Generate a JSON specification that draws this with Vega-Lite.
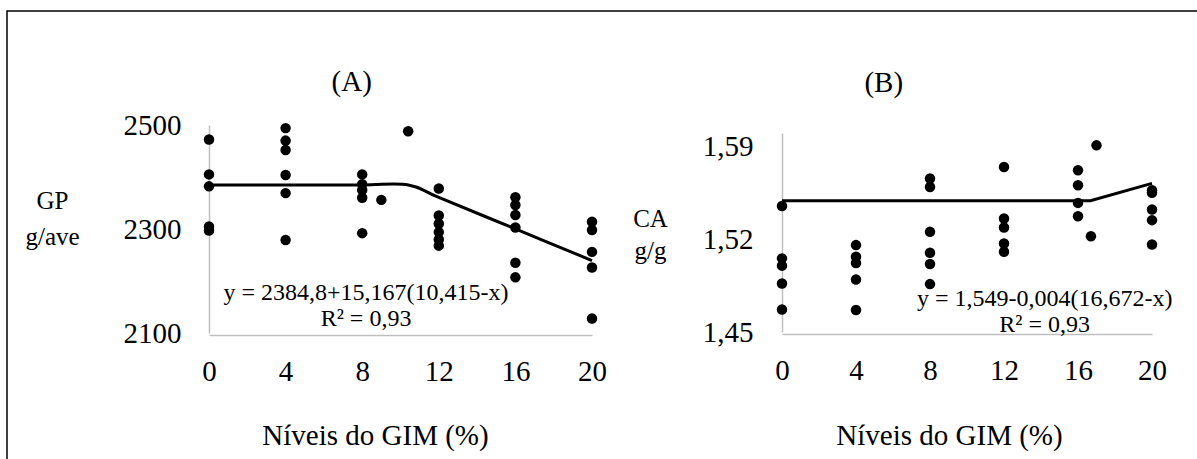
{
  "$schema": "https://vega.github.io/schema/vega-lite/v6.json",
  "width": 1195,
  "height": 452,
  "autosize": {"type": "none"},
  "padding": {"left": 7, "top": 11, "right": 0, "bottom": 0},
  "background": "white",
  "config": {
    "view": {"stroke": "#000000", "strokeWidth": 1.5},
    "font": "Liberation Serif",
    "axis": {
      "grid": false, "ticks": false, "tickSize": 0,
      "domainColor": "#bfbfbf", "domainWidth": 1.5,
      "labelFont": "Liberation Serif", "labelFontSize": 29, "labelColor": "#000000",
      "labelFlush": false, "labelOverlap": false, "labelBound": false,
      "titleFont": "Liberation Serif", "titleFontWeight": "normal", "titleColor": "#000000"
    }
  },
  "datasets": {
    "ptsA": [
      {"gim": 0, "gp": 2472}, {"gim": 0, "gp": 2405}, {"gim": 0, "gp": 2382}, {"gim": 0, "gp": 2305}, {"gim": 0, "gp": 2297},
      {"gim": 4, "gp": 2494}, {"gim": 4, "gp": 2470}, {"gim": 4, "gp": 2452}, {"gim": 4, "gp": 2404}, {"gim": 4, "gp": 2369}, {"gim": 4, "gp": 2279},
      {"gim": 8, "gp": 2405}, {"gim": 8, "gp": 2386}, {"gim": 8, "gp": 2375}, {"gim": 8, "gp": 2360}, {"gim": 8, "gp": 2292},
      {"gim": 9, "gp": 2356}, {"gim": 10.4, "gp": 2488},
      {"gim": 12, "gp": 2378}, {"gim": 12, "gp": 2326}, {"gim": 12, "gp": 2310}, {"gim": 12, "gp": 2294}, {"gim": 12, "gp": 2280}, {"gim": 12, "gp": 2268},
      {"gim": 16, "gp": 2361}, {"gim": 16, "gp": 2346}, {"gim": 16, "gp": 2327}, {"gim": 16, "gp": 2303}, {"gim": 16, "gp": 2235}, {"gim": 16, "gp": 2207},
      {"gim": 20, "gp": 2314}, {"gim": 20, "gp": 2298}, {"gim": 20, "gp": 2256}, {"gim": 20, "gp": 2226}, {"gim": 20, "gp": 2128}
    ],
    "lineA": [
      {"gim": 0, "gp": 2384.8}, {"gim": 4, "gp": 2384.8}, {"gim": 8, "gp": 2384.8}, {"gim": 10.415, "gp": 2384.8},
      {"gim": 12, "gp": 2360.7}, {"gim": 16, "gp": 2300.1}, {"gim": 20, "gp": 2239.4}
    ],
    "ptsB": [
      {"gim": 0, "ca": 1.545}, {"gim": 0, "ca": 1.5055}, {"gim": 0, "ca": 1.5}, {"gim": 0, "ca": 1.4866}, {"gim": 0, "ca": 1.467},
      {"gim": 4, "ca": 1.5155}, {"gim": 4, "ca": 1.5067}, {"gim": 4, "ca": 1.502}, {"gim": 4, "ca": 1.4896}, {"gim": 4, "ca": 1.4666},
      {"gim": 8, "ca": 1.5657}, {"gim": 8, "ca": 1.5593}, {"gim": 8, "ca": 1.5255}, {"gim": 8, "ca": 1.5097}, {"gim": 8, "ca": 1.5012}, {"gim": 8, "ca": 1.4861},
      {"gim": 12, "ca": 1.5744}, {"gim": 12, "ca": 1.5355}, {"gim": 12, "ca": 1.5288}, {"gim": 12, "ca": 1.5167}, {"gim": 12, "ca": 1.5105},
      {"gim": 16, "ca": 1.5719}, {"gim": 16, "ca": 1.5606}, {"gim": 16, "ca": 1.5473}, {"gim": 16, "ca": 1.5373},
      {"gim": 16.7, "ca": 1.5222}, {"gim": 17, "ca": 1.5907},
      {"gim": 20, "ca": 1.5568}, {"gim": 20, "ca": 1.555}, {"gim": 20, "ca": 1.5423}, {"gim": 20, "ca": 1.5343}, {"gim": 20, "ca": 1.516}
    ],
    "lineB": [
      {"gim": 0, "ca": 1.549}, {"gim": 16.672, "ca": 1.549}, {"gim": 20, "ca": 1.562}
    ],
    "one": [{}]
  },
  "layer": [
    {
      "layer": [
        {
          "data": {"name": "ptsA"},
          "mark": {"type": "point", "filled": true, "color": "#000000", "size": 110, "opacity": 1},
          "encoding": {
            "x": {"field": "gim", "type": "quantitative",
                  "scale": {"domain": [0, 20], "range": [202, 585], "nice": false, "zero": false},
                  "axis": {"orient": "bottom", "offset": -128, "values": [0, 4, 8, 12, 16, 20], "format": "d", "labelPadding": 22,
                           "title": "Níveis do GIM (%)", "titleFontSize": 29, "titleX": 368, "titleY": 100,
                           "titleAlign": "center", "titleBaseline": "middle", "titleAnchor": null}},
            "y": {"field": "gp", "type": "quantitative",
                  "scale": {"domain": [2100, 2500], "range": [322, 114], "nice": false, "zero": false},
                  "axis": {"orient": "left", "offset": -202, "values": [2100, 2300, 2500], "format": "d", "labelPadding": 28,
                           "title": ["GP", "g/ave"], "titleFontSize": 25, "titleAngle": 0, "titleX": -157, "titleY": 189,
                           "titleAlign": "center", "titleBaseline": "middle", "titleLineHeight": 36, "titleAnchor": null}}
          }
        },
        {
          "data": {"name": "lineA"},
          "mark": {"type": "line", "color": "#000000", "strokeWidth": 3, "interpolate": "cardinal"},
          "encoding": {
            "x": {"field": "gim", "type": "quantitative"},
            "y": {"field": "gp", "type": "quantitative"}
          }
        },
        {
          "data": {"name": "one"},
          "mark": {"type": "text", "fontSize": 29, "color": "#000000", "align": "center", "baseline": "middle", "text": "(A)"},
          "encoding": {"x": {"datum": 7.45}, "y": {"datum": 2583}}
        },
        {
          "data": {"name": "one"},
          "mark": {"type": "text", "fontSize": 24, "color": "#000000", "align": "center", "baseline": "middle", "text": "y = 2384,8+15,167(10,415-x)"},
          "encoding": {"x": {"datum": 8.2}, "y": {"datum": 2177}}
        },
        {
          "data": {"name": "one"},
          "mark": {"type": "text", "fontSize": 24, "color": "#000000", "align": "center", "baseline": "middle", "text": "R² = 0,93"},
          "encoding": {"x": {"datum": 8.2}, "y": {"datum": 2127}}
        }
      ]
    },
    {
      "layer": [
        {
          "data": {"name": "ptsB"},
          "mark": {"type": "point", "filled": true, "color": "#000000", "size": 110, "opacity": 1},
          "encoding": {
            "x": {"field": "gim", "type": "quantitative",
                  "scale": {"domain": [0, 20], "range": [775, 1145], "nice": false, "zero": false},
                  "axis": {"orient": "bottom", "offset": -129, "values": [0, 4, 8, 12, 16, 20], "format": "d", "labelPadding": 22,
                           "title": "Níveis do GIM (%)", "titleFontSize": 29, "titleX": 942, "titleY": 101,
                           "titleAlign": "center", "titleBaseline": "middle", "titleAnchor": null}},
            "y": {"field": "ca", "type": "quantitative",
                  "scale": {"domain": [1.45, 1.6], "range": [321, 122], "nice": false, "zero": false},
                  "axis": {"orient": "left", "offset": -775, "values": [1.45, 1.52, 1.59], "labelPadding": 29,
                           "labelExpr": "replace(format(datum.value, '.2f'), '.', ',')",
                           "title": ["CA", "g/g"], "titleFontSize": 25, "titleAngle": 0, "titleX": -132, "titleY": 207,
                           "titleAlign": "center", "titleBaseline": "middle", "titleLineHeight": 32, "titleAnchor": null}}
          }
        },
        {
          "data": {"name": "lineB"},
          "mark": {"type": "line", "color": "#000000", "strokeWidth": 3},
          "encoding": {
            "x": {"field": "gim", "type": "quantitative"},
            "y": {"field": "ca", "type": "quantitative"}
          }
        },
        {
          "data": {"name": "one"},
          "mark": {"type": "text", "fontSize": 29, "color": "#000000", "align": "center", "baseline": "middle", "text": "(B)"},
          "encoding": {"x": {"datum": 5.5}, "y": {"datum": 1.638}}
        },
        {
          "data": {"name": "one"},
          "mark": {"type": "text", "fontSize": 24, "color": "#000000", "align": "center", "baseline": "middle", "text": "y = 1,549-0,004(16,672-x)"},
          "encoding": {"x": {"datum": 14.2}, "y": {"datum": 1.4749}}
        },
        {
          "data": {"name": "one"},
          "mark": {"type": "text", "fontSize": 24, "color": "#000000", "align": "center", "baseline": "middle", "text": "R² = 0,93"},
          "encoding": {"x": {"datum": 14.2}, "y": {"datum": 1.4553}}
        }
      ]
    }
  ],
  "resolve": {"scale": {"x": "independent", "y": "independent"}, "axis": {"x": "independent", "y": "independent"}}
}
